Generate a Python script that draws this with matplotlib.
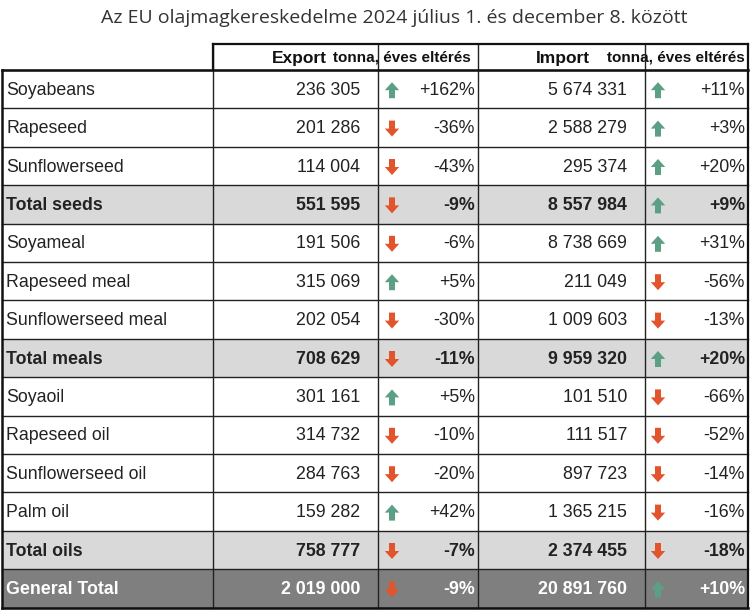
import matplotlib.pyplot as plt
from matplotlib.patches import Rectangle, Polygon

# ─── Table data ──────────────────────────────────────────────────────────────
products = ["Soyabeans", "Rapeseed", "Sunflowerseed", "Total seeds",
            "Soyameal", "Rapeseed meal", "Sunflowerseed meal", "Total meals",
            "Soyaoil", "Rapeseed oil", "Sunflowerseed oil", "Palm oil",
            "Total oils", "General Total"]
export_t = [236305, 201286, 114004, 551595,
            191506, 315069, 202054, 708629,
            301161, 314732, 284763, 159282,
            758777, 2019000]
export_chg = [162, -36, -43, -9,
              -6, 5, -30, -11,
              5, -10, -20, 42,
              -7, -9]
import_t = [5674331, 2588279, 295374, 8557984,
            8738669, 211049, 1009603, 9959320,
            101510, 111517, 897723, 1365215,
            2374455, 20891760]
import_chg = [11, 3, 20, 9,
              31, -56, -13, 20,
              -66, -52, -14, -16,
              -18, 10]
row_kind = ["item", "item", "item", "total",
            "item", "item", "item", "total",
            "item", "item", "item", "item",
            "total", "grand"]

TITLE = "Az EU olajmagkereskedelme 2024 július 1. és december 8. között"

# ─── Layout (pixel space) ────────────────────────────────────────────────────
W, H = 750, 611
x_cols = [2, 213, 378, 478, 645, 748]
head_top, row_top, row_h = 44, 70, 38.4
FONT = "Liberation Sans"
UP_C, DOWN_C = "#5b9f84", "#e1542c"
fills = {"item": "white", "total": "#d9d9d9", "grand": "#7f7f7f"}


def fmt(v):
    return f"{v:,}".replace(",", " ")


def arrow(ax, xc, yc, up, color):
    hw, sw, hl, L = 7.2, 3.0, 8, 8.0   # half widths / lengths in px
    s = -1 if up else 1                 # y axis is inverted
    tip = yc + s * L
    base = yc - s * L
    neck = tip - s * hl
    pts = [(xc, tip), (xc + hw, neck), (xc + sw, neck), (xc + sw, base),
           (xc - sw, base), (xc - sw, neck), (xc - hw, neck)]
    ax.add_patch(Polygon(pts, closed=True, facecolor=color, edgecolor="none"))


fig = plt.figure(figsize=(7.5, 6.11), dpi=100)
ax = fig.add_axes([0, 0, 1, 1])
ax.set_xlim(0, W)
ax.set_ylim(H, 0)
ax.axis("off")

ax.text(394, 18, TITLE, ha="center", va="center", fontsize=14,
        family="Open Sans", color="#333333")

# header row
hy = (head_top + row_top) / 2 + 1
hkw = dict(ha="right", va="center", fontweight="bold", family=FONT, color="#111111")
ax.text(471, hy, "tonna, éves eltérés", fontsize=11, **hkw)
ax.text(327, hy, "Export", fontsize=12.5, **hkw)
ax.text(745, hy, "tonna, éves eltérés", fontsize=11, **hkw)
ax.text(590, hy, "Import", fontsize=12.5, **hkw)

# body rows
n = len(products)
for i in range(n):
    top = row_top + i * row_h
    yc = top + row_h / 2 + 1
    kind = row_kind[i]
    ax.add_patch(Rectangle((x_cols[0], top), x_cols[-1] - x_cols[0], row_h,
                           facecolor=fills[kind], edgecolor="none", zorder=0))
    bold = "bold" if kind != "item" else "normal"
    tc = "white" if kind == "grand" else "#222222"
    kw = dict(va="center", fontsize=12.8, family=FONT, fontweight=bold, color=tc)
    ax.text(6, yc, products[i], ha="left", **kw)
    ax.text(360, yc, fmt(export_t[i]), ha="right", **kw)
    ax.text(475, yc, f"{export_chg[i]:+d}%", ha="right", **kw)
    ax.text(627, yc, fmt(import_t[i]), ha="right", **kw)
    ax.text(745, yc, f"{import_chg[i]:+d}%", ha="right", **kw)
    for xa, chg in [(392, export_chg[i]), (658, import_chg[i])]:
        arrow(ax, xa, yc, chg > 0, UP_C if chg > 0 else DOWN_C)

# grid lines
bottom = row_top + n * row_h
for k in range(n + 1):
    y = row_top + k * row_h
    ax.plot([x_cols[0], x_cols[-1]], [y, y], color="#222222", lw=1.0, zorder=3)
for xc in x_cols[1:-1]:
    ax.plot([xc, xc], [head_top, bottom], color="#222222", lw=1.0, zorder=3)
ax.plot([x_cols[1], x_cols[-1]], [head_top, head_top], color="#111111", lw=1.6, zorder=4)
ax.plot([x_cols[1], x_cols[1]], [head_top, row_top], color="#111111", lw=1.6, zorder=4)
ax.plot([x_cols[-1], x_cols[-1]], [head_top, bottom], color="#111111", lw=1.6, zorder=4)
ax.plot([x_cols[0], x_cols[0]], [row_top, bottom], color="#111111", lw=1.8, zorder=4)
ax.plot([x_cols[0], x_cols[-1]], [row_top, row_top], color="#111111", lw=1.8, zorder=4)
ax.plot([x_cols[0], x_cols[-1]], [bottom, bottom], color="#111111", lw=1.8, zorder=4)

fig.savefig("out.png", dpi=100)
